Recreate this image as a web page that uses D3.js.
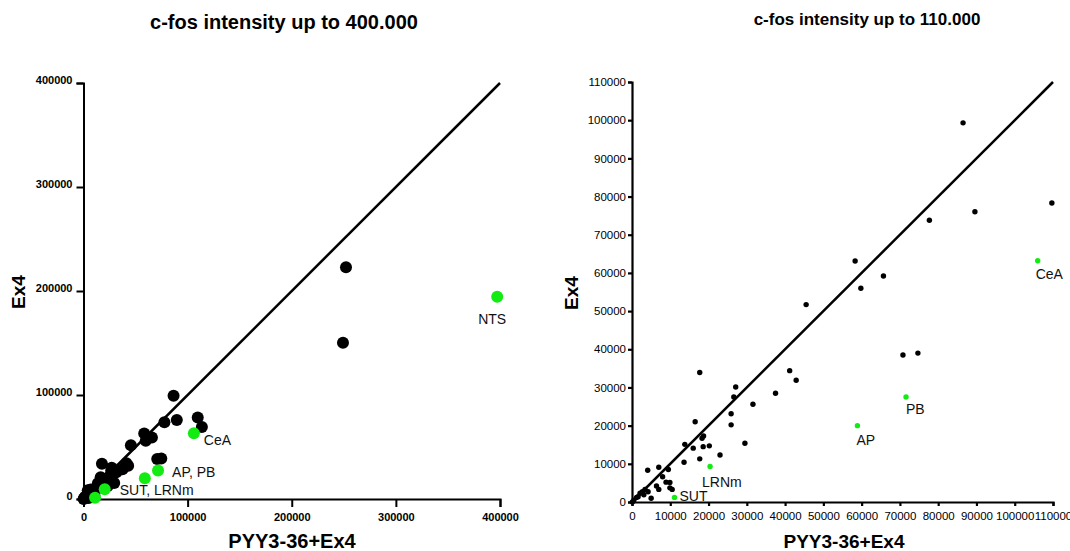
<!DOCTYPE html>
<html>
<head>
<meta charset="utf-8">
<script src="https://cdn.jsdelivr.net/npm/d3@7"></script>
<style>
  body { margin: 0; background: #fff; }
  svg { display: block; font-family: "Liberation Sans", Arial, sans-serif; }
</style>
</head>
<body>
<svg id="chart" width="1070" height="551"></svg>
<script>
// Black regions: [PYY3-36+Ex4, Ex4] c-fos intensity
const blackPoints = [
  [86500, 99300], [109700, 78300], [89600, 76000], [77700, 73800],
  [58300, 63100], [65700, 59200], [59800, 56000], [45500, 51700],
  [70800, 38500], [74700, 39000], [17700, 33900], [41200, 34400],
  [42900, 31900], [27100, 30100], [26600, 27500], [37500, 28500],
  [31600, 25600], [25900, 23100], [25900, 20200], [16500, 21000],
  [29500, 15400], [18700, 17300], [18300, 16700], [13800, 15100],
  [16000, 14100], [18600, 14500], [20200, 14700], [13600, 10400],
  [17700, 11300], [23000, 12300], [4100, 8300], [7000, 9100],
  [9500, 8500], [8000, 6600], [8900, 5200], [9900, 5100],
  [9900, 3700], [10500, 3300], [6400, 4200], [7000, 3300],
  [5000, 1000], [4200, 2700], [3400, 3300], [2700, 2700],
  [2100, 2300], [3100, 1900], [1600, 1400], [1200, 1200],
  [500, 500], [100, 0],
  [113700, 69200], [252100, 222800], [249200, 150300]
];

// Highlighted regions (green)
const greenNames = ["NTS", "CeA", "PB", "AP", "LRNm", "SUT"];
const greenX = [397300, 106000, 71600, 58900, 20400, 11100];
const greenY = [194500, 63200, 27500, 20000, 9300, 1200];

const leftTicks = [0, 100000, 200000, 300000, 400000];
const rightTicks = d3.range(0, 110001, 10000);

const leftTitle = "c-fos intensity up to 400.000";
const rightTitle = "c-fos intensity up to 110.000";
const xTitle = "PYY3-36+Ex4";
const yTitle = "Ex4";

// label placement per panel (pixel offsets from the anchor point)
const leftLabels = [
  { text: "NTS", at: "NTS", dx: -5, dy: 27, anchor: "middle" },
  { text: "CeA", at: "CeA", dx: 10, dy: 12, anchor: "start" },
  { text: "AP, PB", at: "PB", dx: 14, dy: 7, anchor: "start" },
  { text: "SUT, LRNm", at: "LRNm", dx: 15, dy: 6, anchor: "start" }
];
const rightLabels = [
  { text: "CeA", at: "CeA", dx: -2, dy: 18, anchor: "start" },
  { text: "PB", at: "PB", dx: 0, dy: 17, anchor: "start" },
  { text: "AP", at: "AP", dx: -1, dy: 19, anchor: "start" },
  { text: "LRNm", at: "LRNm", dx: -8, dy: 21, anchor: "start" },
  { text: "SUT", at: "SUT", dx: 5, dy: 4, anchor: "start" }
];

const greens = greenNames.map((n, i) => ({ name: n, x: greenX[i], y: greenY[i] }));
const svg = d3.select("#chart");
const GREEN = "#12ec12";

function drawPanel(opt) {
  const x = d3.scaleLinear().domain([0, opt.max]).range(opt.xRange);
  const y = d3.scaleLinear().domain([0, opt.max]).range(opt.yRange);
  const g = svg.append("g");

  // title
  g.append("text")
    .attr("x", opt.titleX).attr("y", opt.titleY)
    .attr("text-anchor", "middle")
    .attr("font-size", opt.titleSize).attr("font-weight", "bold")
    .text(opt.title);

  // x axis
  const xAxis = g.append("g")
    .attr("transform", `translate(0,${opt.yRange[0]})`)
    .call(d3.axisBottom(x).tickValues(opt.ticks).tickFormat(d3.format("d"))
      .tickSizeOuter(0).tickSize(opt.xTick).tickPadding(opt.xPad));
  // y axis
  const yAxis = g.append("g")
    .attr("transform", `translate(${opt.xRange[0]},0)`)
    .call(d3.axisLeft(y).tickValues(opt.ticks).tickFormat(d3.format("d"))
      .tickSizeOuter(0).tickSize(opt.yTick).tickPadding(opt.yPad));

  [xAxis, yAxis].forEach(a => {
    a.select(".domain").attr("stroke", "#000").attr("stroke-width", opt.axisWidth);
    a.selectAll(".tick line").attr("stroke", "#000").attr("stroke-width", opt.axisWidth);
    a.selectAll(".tick text")
      .attr("fill", "#000")
      .attr("font-family", "'Liberation Sans', Arial, sans-serif")
      .attr("font-size", opt.tickSize)
      .attr("font-weight", opt.tickWeight);
  });
  yAxis.selectAll(".tick text").attr("dy", opt.yLabelDy);

  // identity line
  g.append("line")
    .attr("x1", x(0)).attr("y1", y(0))
    .attr("x2", x(opt.max)).attr("y2", y(opt.max))
    .attr("stroke", "#000").attr("stroke-width", 2.5);

  const inRange = d => d[0] <= opt.max && d[1] <= opt.max;

  g.append("g").selectAll("circle")
    .data(blackPoints.filter(inRange))
    .join("circle")
    .attr("cx", d => x(d[0])).attr("cy", d => y(d[1]))
    .attr("r", opt.r).attr("fill", "#000");

  const gs = greens.filter(d => inRange([d.x, d.y]));
  g.append("g").selectAll("circle")
    .data(gs)
    .join("circle")
    .attr("cx", d => x(d.x)).attr("cy", d => y(d.y))
    .attr("r", opt.r).attr("fill", GREEN);

  const byName = {};
  gs.forEach(d => byName[d.name] = d);
  g.append("g").selectAll("text")
    .data(opt.labels)
    .join("text")
    .attr("x", d => x(byName[d.at].x) + d.dx)
    .attr("y", d => y(byName[d.at].y) + d.dy)
    .attr("text-anchor", d => d.anchor)
    .attr("font-size", 14)
    .attr("fill", "#111")
    .text(d => d.text);

  // axis titles
  g.append("text")
    .attr("x", opt.xTitleX).attr("y", opt.xTitleY)
    .attr("text-anchor", "middle")
    .attr("font-size", opt.axisTitleSize).attr("font-weight", "bold")
    .text(xTitle);
  g.append("text")
    .attr("transform", `translate(${opt.yTitleX},${opt.yTitleY}) rotate(-90)`)
    .attr("text-anchor", "middle")
    .attr("font-size", 19).attr("font-weight", "bold")
    .text(yTitle);
}

drawPanel({
  max: 400000, ticks: leftTicks, labels: leftLabels,
  xRange: [83.5, 500], yRange: [499, 83],
  title: leftTitle, titleX: 284, titleY: 29, titleSize: 20,
  xTick: 8, xPad: 6, yTick: 7, yPad: 4, yLabelDy: "0.05em",
  tickSize: 11, tickWeight: "bold", axisWidth: 2,
  r: 6, xTitleX: 292, xTitleY: 548, axisTitleSize: 20,
  yTitleX: 25, yTitleY: 292
});

drawPanel({
  max: 110000, ticks: rightTicks, labels: rightLabels,
  xRange: [632, 1053], yRange: [502, 82],
  title: rightTitle, titleX: 867, titleY: 25, titleSize: 17,
  xTick: 4, xPad: 6, yTick: 4, yPad: 2, yLabelDy: "0.32em",
  tickSize: 11.5, tickWeight: "normal", axisWidth: 2.2,
  r: 2.7, xTitleX: 844, xTitleY: 548, axisTitleSize: 19,
  yTitleX: 578, yTitleY: 293
});
</script>
</body>
</html>
